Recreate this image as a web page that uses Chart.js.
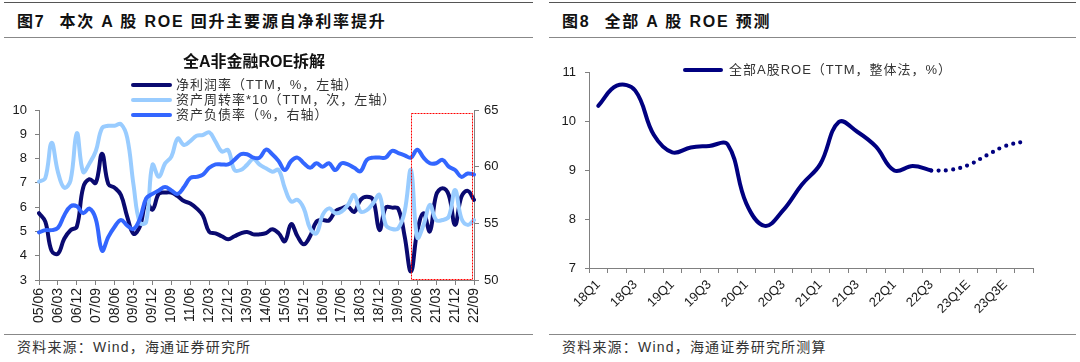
<!DOCTYPE html>
<html><head><meta charset="utf-8">
<script src="https://cdn.jsdelivr.net/npm/chart.js@4.4.1/dist/chart.umd.min.js"></script>
<style>
body{margin:0;width:1080px;height:362px;background:#fff;position:relative;overflow:hidden;font-family:"Liberation Sans",Arial,"Noto Sans CJK SC",sans-serif;}
.rule{position:absolute;height:0;}
.hdr{position:absolute;top:12px;font-size:16px;font-weight:bold;color:#111;white-space:nowrap;line-height:19px;letter-spacing:1.8px;}
.hdr span{margin-right:14px;}
.src{position:absolute;top:339px;font-size:14px;color:#333;white-space:nowrap;line-height:17px;letter-spacing:1.2px;}
.ttl{position:absolute;font-size:16px;font-weight:bold;color:#111;white-space:nowrap;line-height:19px;text-align:center;}
.leg{position:absolute;font-size:13px;color:#333;white-space:nowrap;line-height:15px;letter-spacing:1px;display:flex;align-items:center;}
.leg i{display:inline-block;width:41px;height:4px;border-radius:2px;margin-right:4px;}
canvas{position:absolute;}
</style></head>
<body>
<div class="rule" style="left:4px;top:2px;width:529px;border-top:1.5px solid #555"></div>
<div class="hdr" style="left:17px"><span>图7</span>本次 A 股 ROE 回升主要源自净利率提升</div>
<div class="rule" style="left:4px;top:37px;width:529px;border-top:1.5px solid #888"></div>

<div class="rule" style="left:549px;top:2px;width:527px;border-top:1.5px solid #555"></div>
<div class="hdr" style="left:562px"><span>图8</span>全部 A 股 ROE 预测</div>
<div class="rule" style="left:549px;top:37px;width:527px;border-top:1.5px solid #888"></div>

<canvas id="c1" width="540" height="290" style="left:0;top:40px;width:540px;height:290px"></canvas>
<canvas id="c2" width="540" height="290" style="left:540px;top:40px;width:540px;height:290px"></canvas>

<div class="ttl" style="left:154px;top:52px;width:200px">全A非金融ROE拆解</div>
<div class="leg" style="left:131px;top:77px"><i style="background:#0a0a70"></i>净利润率（TTM，%，左轴）</div>
<div class="leg" style="left:131px;top:92px"><i style="background:#99ccff"></i>资产周转率*10（TTM，次，左轴）</div>
<div class="leg" style="left:131px;top:107px"><i style="background:#3366ff"></i>资产负债率（%，右轴）</div>

<div class="leg" style="left:683px;top:62px"><i style="background:#000080;width:40px;margin-right:6px"></i>全部A股ROE（TTM，整体法，%）</div>

<div class="rule" style="left:4px;top:334px;width:529px;border-top:1.5px solid #888"></div>
<div class="src" style="left:17px">资料来源：Wind，海通证券研究所</div>
<div class="rule" style="left:549px;top:334px;width:527px;border-top:1.5px solid #888"></div>
<div class="src" style="left:562px">资料来源：Wind，海通证券研究所测算</div>

<script>
// ---------- Figure 7 data ----------
const quarterLabels = [
 '05/06','05/09','05/12',
 '06/03','06/06','06/09','06/12','07/03','07/06','07/09','07/12',
 '08/03','08/06','08/09','08/12','09/03','09/06','09/09','09/12',
 '10/03','10/06','10/09','10/12','11/03','11/06','11/09','11/12',
 '12/03','12/06','12/09','12/12','13/03','13/06','13/09','13/12',
 '14/03','14/06','14/09','14/12','15/03','15/06','15/09','15/12',
 '16/03','16/06','16/09','16/12','17/03','17/06','17/09','17/12',
 '18/03','18/06','18/09','18/12','19/03','19/06','19/09','19/12',
 '20/03','20/06','20/09','20/12','21/03','21/06','21/09','21/12',
 '22/03','22/06','22/09'
];
const netMargin = [
 5.75,5.4,4.2,4.08,4.7,5.05,5.2,6.8,7.15,7.0,
 8.2,6.95,6.8,6.5,5.6,4.9,5.2,6.2,5.9,6.55,
 6.6,6.6,6.45,6.25,6.15,5.95,5.65,4.98,4.92,4.8,
 4.68,4.8,4.92,4.98,4.88,4.88,4.93,5.09,4.93,4.6,
 5.3,4.8,4.47,4.8,5.4,5.47,5.45,5.82,5.95,6.02,
 5.8,6.3,6.43,6.3,5.06,5.98,5.98,5.93,4.8,3.35,
 5.0,5.75,5.0,6.5,6.78,6.5,5.27,6.43,6.67,6.3
];
const assetTurnover10 = [
 7.05,7.2,8.65,7.45,6.8,7.1,9.05,7.45,7.8,8.3,
 9.25,9.35,9.35,9.42,8.85,6.9,5.35,5.4,7.74,7.25,
 7.8,8.08,8.83,8.56,8.72,8.94,8.97,9.08,8.7,8.29,
 8.35,7.53,7.53,7.74,7.98,7.75,7.6,7.46,7.53,6.78,
 6.23,6.3,5.95,5.13,4.92,5.68,5.95,5.75,5.82,6.09,
 6.5,5.82,5.88,6.16,6.5,5.27,5.1,5.13,5.82,7.53,
 4.75,5.27,6.09,5.47,5.47,5.61,6.71,5.54,5.27,5.47
];
const debtRatio = [
 54.2,54.4,54.4,54.6,55.7,56.5,56.5,55.9,56.3,55.4,
 52.6,53.8,54.7,55.3,54.8,54.5,55.4,57.2,57.6,57.9,
 58.2,57.9,57.6,58.2,59.0,59.1,59.3,59.9,60.2,60.2,
 60.2,60.6,61.1,61.1,60.8,60.8,61.5,61.1,60.5,59.7,
 60.5,60.8,60.3,59.9,60.3,60.0,60.3,59.7,60.3,60.2,
 59.9,59.6,60.6,60.8,60.8,60.8,61.4,61.2,61.0,60.8,
 61.5,60.8,60.3,60.3,60.6,60.0,59.7,59.1,59.4,59.3
];
const highlightFrom = '20/03';

// ---------- Figure 8 data ----------
const roeQuarters = [
 '18Q1','18Q2','18Q3','18Q4','19Q1','19Q2','19Q3','19Q4',
 '20Q1','20Q2','20Q3','20Q4','21Q1','21Q2','21Q3','21Q4',
 '22Q1','22Q2','22Q3','22Q4E','23Q1E','23Q2E','23Q3E','23Q4E'
];
const roeActual = [10.31,10.72,10.62,9.72,9.36,9.46,9.49,9.52,8.32,7.86,8.18,8.7,9.12,9.98,9.78,9.48,8.99,9.08,8.99];
const roeForecast = [8.99,9.0,9.1,9.3,9.49,9.58]; // from 22Q3 to 23Q4E

const FONT = '"Liberation Sans", Arial, sans-serif';
const AXIS = '#808080';
const TICKC = '#1a1a1a';

const highlightBox = {
  id: 'highlightBox',
  afterDatasetsDraw(chart) {
    const {ctx, chartArea, scales} = chart;
    const x0 = Math.round(scales.x.getPixelForValue(quarterLabels.indexOf(highlightFrom))) + 0.5;
    const y0 = Math.round(scales.y1.getPixelForValue(64.75)) + 0.5;
    const x1 = Math.round(chartArea.right) - 1.5;
    const y1 = Math.round(chartArea.bottom) - 0.5;
    ctx.save();
    ctx.strokeStyle = '#ff0000';
    ctx.lineWidth = 1;
    ctx.setLineDash([2, 1]);
    ctx.strokeRect(x0, y0, x1 - x0, y1 - y0);
    ctx.restore();
  }
};

const lineDs = (data, color, axis, order) => ({
  data, borderColor: color, backgroundColor: color, yAxisID: axis, order,
  borderWidth: 4, tension: 0.4, pointRadius: 0, fill: false,
  borderCapStyle: 'round', borderJoinStyle: 'round'
});

new Chart(document.getElementById('c1'), {
  type: 'line',
  data: {
    labels: quarterLabels,
    datasets: [
      lineDs(netMargin, '#0a0a70', 'y', 2),
      lineDs(assetTurnover10, '#99ccff', 'y', 1),
      lineDs(debtRatio, '#3366ff', 'y1', 0)
    ]
  },
  options: {
    responsive: false, animation: false, devicePixelRatio: 1,
    layout: {padding: {top: 70, left: 0, right: 0, bottom: 0}},
    plugins: {legend: {display: false}, title: {display: false}, tooltip: {enabled: false}},
    scales: {
      x: {
        type: 'category', offset: false,
        afterFit: s => { s.height = 50; },
        grid: {display: true, drawOnChartArea: false, drawTicks: true, tickLength: 5, color: AXIS},
        border: {display: true, color: AXIS, width: 1},
        ticks: {
          autoSkip: false, minRotation: 90, maxRotation: 90, padding: 3,
          color: TICKC, font: {family: FONT, size: 14},
          callback: (v, i) => (i % 3 === 0 ? quarterLabels[i] : null)
        }
      },
      y: {
        position: 'left', min: 3, max: 10,
        afterFit: s => { s.width = 39; },
        grid: {display: true, drawOnChartArea: false, drawTicks: true, tickLength: 4, color: AXIS},
        border: {display: true, color: AXIS, width: 1},
        ticks: {stepSize: 1, padding: 8, color: TICKC, font: {family: FONT, size: 13}}
      },
      y1: {
        position: 'right', min: 50, max: 65,
        afterFit: s => { s.width = 66; },
        grid: {display: true, drawOnChartArea: false, drawTicks: true, tickLength: 5, color: AXIS},
        border: {display: true, color: AXIS, width: 1},
        ticks: {stepSize: 5, padding: 5, color: TICKC, font: {family: FONT, size: 13}}
      }
    }
  },
  plugins: [highlightBox]
});

const nullsBefore = roeQuarters.length - roeForecast.length;
new Chart(document.getElementById('c2'), {
  type: 'line',
  data: {
    labels: roeQuarters,
    datasets: [
      {
        data: roeActual.concat(new Array(roeQuarters.length - roeActual.length).fill(null)),
        borderColor: '#000080', borderWidth: 4, tension: 0.4, pointRadius: 0,
        borderCapStyle: 'round', borderJoinStyle: 'round', spanGaps: false
      },
      {
        data: new Array(nullsBefore).fill(null).concat(roeForecast),
        borderColor: '#000080', borderWidth: 4.2, tension: 0.4, pointRadius: 0,
        borderDash: [0, 7.3], borderCapStyle: 'round', spanGaps: false
      }
    ]
  },
  options: {
    responsive: false, animation: false, devicePixelRatio: 1,
    layout: {padding: {top: 32, left: 0, right: 47, bottom: 0}},
    plugins: {legend: {display: false}, title: {display: false}, tooltip: {enabled: false}},
    scales: {
      x: {
        type: 'category', offset: true,
        afterFit: s => { s.height = 62; },
        grid: {display: true, offset: true, drawOnChartArea: false, drawTicks: true, tickLength: 5, color: AXIS},
        border: {display: true, color: AXIS, width: 1},
        ticks: {
          autoSkip: false, minRotation: 45, maxRotation: 45, padding: 4,
          color: TICKC, font: {family: FONT, size: 13},
          callback: (v, i) => (i % 2 === 0 ? roeQuarters[i] : '')
        }
      },
      y: {
        position: 'left', min: 7, max: 11,
        afterFit: s => { s.width = 49; },
        grid: {display: true, drawOnChartArea: false, drawTicks: true, tickLength: 4, color: AXIS},
        border: {display: true, color: AXIS, width: 1},
        ticks: {stepSize: 1, padding: 9, color: TICKC, font: {family: FONT, size: 13}}
      }
    }
  }
});
</script>
</body></html>
